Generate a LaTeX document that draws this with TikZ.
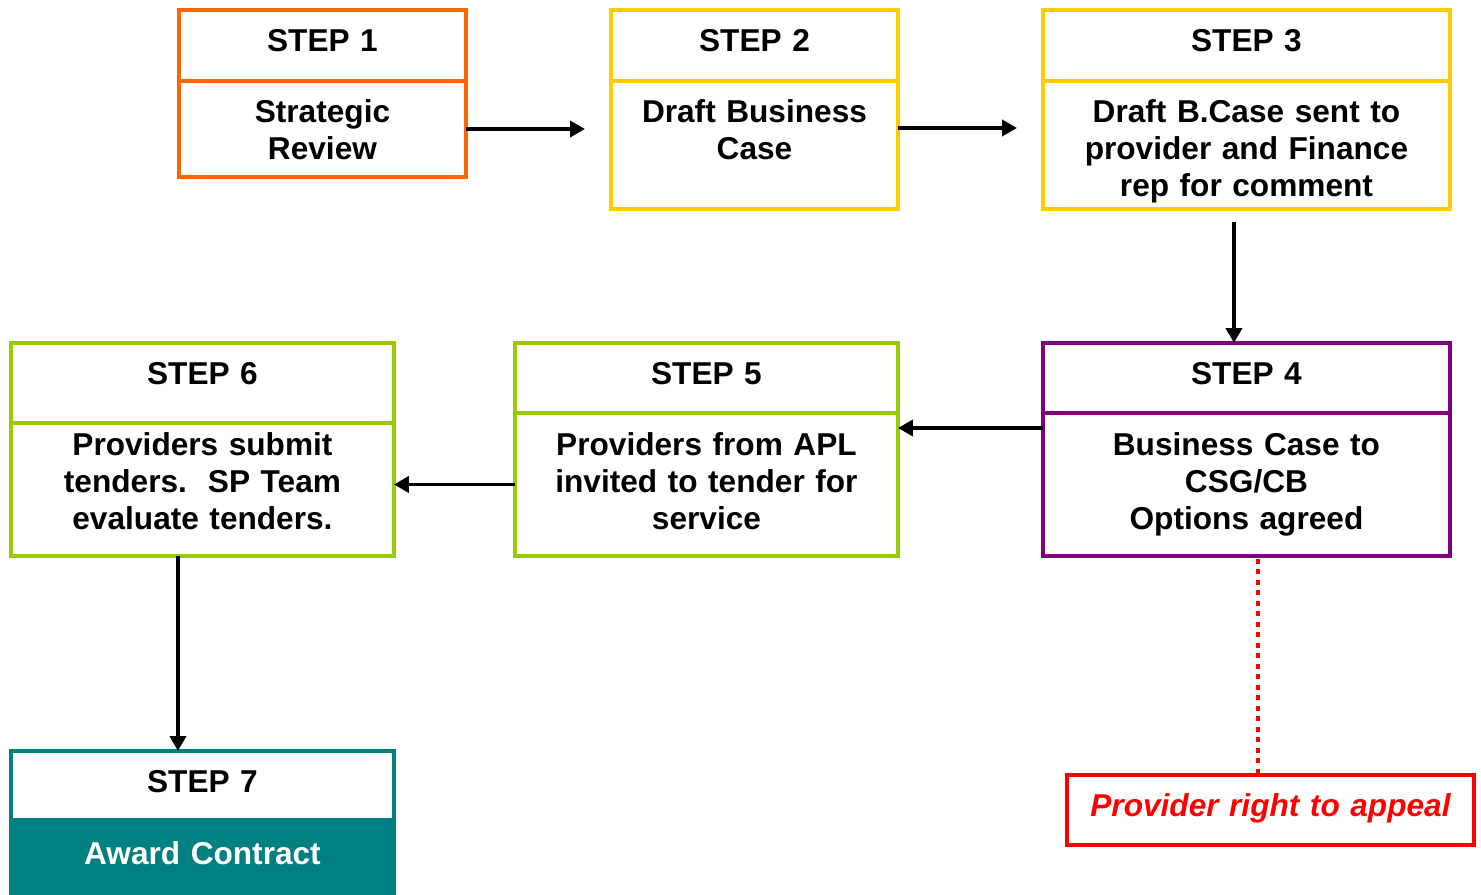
\documentclass[tikz,border=0pt]{standalone}
\usepackage{fontspec}
\setmainfont{Liberation Sans}
\usetikzlibrary{arrows.meta}

\definecolor{steporange}{HTML}{FF6600}
\definecolor{stepyellow}{HTML}{FFCC00}
\definecolor{steppurple}{HTML}{800080}
\definecolor{stepgreen}{HTML}{99CC00}
\definecolor{stepteal}{HTML}{008080}

\begin{document}
\begin{tikzpicture}[x=0.02cm, y=-0.02cm,
	every node/.style={font=\bfseries\fontsize{18}{21}\selectfont},
	stepbox/.style n args={3}{draw=#1, fill=white, line width=0.08cm, anchor=north west,
		outer sep=0pt, inner sep=0pt, text width=#2, align=center,
		text height=0.84cm, text depth=#3},
	flow/.style={-{Triangle[length=0.3cm,width=0.32cm]}, line width=0.075cm}]
	\useasboundingbox (0,0) rectangle (1481,895);

	% top row
	\node[stepbox={steporange}{5.74cm}{0.58cm}] (s1h) at (179,10) {STEP 1};
	\node[stepbox={steporange}{5.74cm}{1.08cm}] (s1) at (179,81) {Strategic\\Review};
	\node[stepbox={stepyellow}{5.74cm}{0.58cm}] (s2h) at (611,10) {STEP 2};
	\node[stepbox={stepyellow}{5.74cm}{1.72cm}] (s2) at (611,81) {Draft Business\\Case};
	\node[stepbox={stepyellow}{8.14cm}{0.58cm}] (s3h) at (1043,10) {STEP 3};
	\node[stepbox={stepyellow}{8.14cm}{1.72cm}] (s3) at (1043,81) {Draft B.Case sent to\\provider and Finance\\rep for comment};

	% middle row
	\node[stepbox={steppurple}{8.14cm}{0.56cm}] (s4h) at (1043,343) {STEP 4};
	\node[stepbox={steppurple}{8.14cm}{2.00cm}, text height=0.86cm] (s4) at (1043,413) {Business Case to\\CSG/CB\\Options agreed};
	\node[stepbox={stepgreen}{7.66cm}{0.56cm}] (s5h) at (515,343) {STEP 5};
	\node[stepbox={stepgreen}{7.66cm}{2.00cm}, text height=0.86cm] (s5) at (515,413) {Providers from APL\\invited to tender for\\service};
	\node[stepbox={stepgreen}{7.66cm}{0.76cm}] (s6h) at (11,343) {STEP 6};
	\node[stepbox={stepgreen}{7.66cm}{2.00cm}, text height=0.66cm] (s6) at (11,423) {Providers submit\\tenders.\ \ SP Team\\evaluate tenders.};

	% bottom row
	\node[stepbox={stepteal}{7.66cm}{0.54cm}] (s7h) at (11,751) {STEP 7};
	\node[stepbox={stepteal}{7.66cm}{0.90cm}, text height=0.90cm, fill=stepteal, text=white] (s7) at (11,820) {Award Contract};
	\node[stepbox={red}{8.14cm}{0.56cm}, text=red, font=\bfseries\itshape\fontsize{18}{21}\selectfont] (appeal) at (1067,775) {Provider right to appeal};

	% connectors
	\coordinate (c45) at ([yshift=-0.3cm]s4.north west);
	\coordinate (d4) at ([xshift=0.23cm]s4.south);
	\draw[flow, shorten >=0.52cm] (s1.east) -- (s1.east -| s2.west);
	\draw[flow, shorten >=0.52cm] ([yshift=0.34cm]s2.east) -- ([yshift=0.34cm]s2.east -| s3.west);
	\draw[flow, shorten <=0.26cm] ([xshift=-0.25cm]s3.south) -- ([xshift=-0.25cm]s4h.north);
	\draw[flow] (c45) -- (c45 -| s5.east);
	\draw[flow] (s5.west) -- (s5.west -| s6.east);
	\draw[flow] ([xshift=-0.49cm]s6.south) -- ([xshift=-0.49cm]s7h.north);
	\draw[red, line width=0.08cm, dash pattern=on 0.1cm off 0.11cm, shorten <=0.06cm] (d4) -- (d4 |- appeal.north);
\end{tikzpicture}
\end{document}
